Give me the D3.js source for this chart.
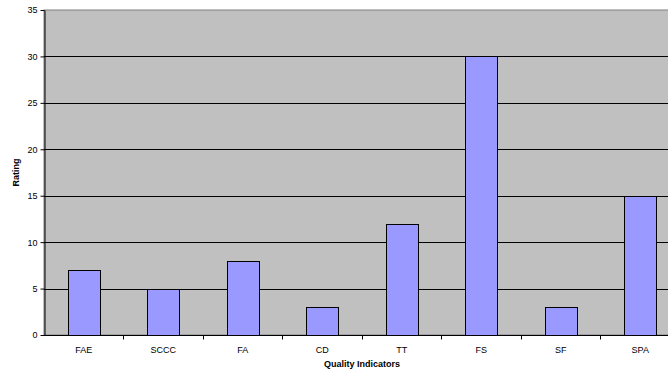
<!DOCTYPE html>
<html>
<head>
<meta charset="utf-8">
<script src="https://cdn.jsdelivr.net/npm/d3@7"></script>
<style>
  body { margin: 0; background: #fff; }
  svg { display: block; font-family: "Liberation Sans", Arial, sans-serif; }
</style>
</head>
<body>
<svg id="chart"></svg>
<script>
const categories = ["FAE", "SCCC", "FA", "CD", "TT", "FS", "SF", "SPA"];
const ratings = [7, 5, 8, 3, 12, 30, 3, 15];
const yTicks = [0, 5, 10, 15, 20, 25, 30, 35];

const width = 668;
const height = 373;
// plot runs past the right edge of the window, like the original
const margin = { top: 10, left: 44, plotRight: 680, bottom: 335 };

const svg = d3.select("#chart").attr("width", width).attr("height", height);

const x = d3
  .scaleBand()
  .domain(categories)
  .range([margin.left, margin.plotRight])
  .paddingInner(0.6)
  .paddingOuter(0.3);

const y = d3.scaleLinear().domain([0, 35]).range([margin.bottom, margin.top]);

// plot background
svg
  .append("rect")
  .attr("x", margin.left)
  .attr("y", margin.top)
  .attr("width", margin.plotRight - margin.left)
  .attr("height", margin.bottom - margin.top)
  .attr("fill", "#c0c0c0")
  .attr("stroke", "#808080")
  .attr("stroke-width", 1);

// gridlines
svg
  .append("g")
  .selectAll("line")
  .data(yTicks.filter((d) => d > 0 && d < 35))
  .enter()
  .append("line")
  .attr("x1", margin.left)
  .attr("x2", margin.plotRight)
  .attr("y1", (d) => Math.round(y(d)) + 0.5)
  .attr("y2", (d) => Math.round(y(d)) + 0.5)
  .attr("stroke", "#000")
  .attr("stroke-width", 1);

// bars
svg
  .append("g")
  .selectAll("rect")
  .data(ratings)
  .enter()
  .append("rect")
  .attr("x", (d, i) => Math.round(x(categories[i])) + 0.5)
  .attr("y", (d) => Math.round(y(d)) + 0.5)
  .attr("width", Math.round(x.bandwidth()))
  .attr("height", (d) => Math.round(y(0)) - Math.round(y(d)))
  .attr("fill", "#9999ff")
  .attr("stroke", "#000")
  .attr("stroke-width", 1);

// y axis
const yAxis = svg
  .append("g")
  .attr("transform", `translate(${margin.left + 0.5},0)`)
  .call(d3.axisLeft(y).tickValues(yTicks).tickSize(4).tickSizeOuter(0).tickPadding(3));
yAxis.select(".domain").attr("stroke", "#000");
yAxis.selectAll("line").attr("stroke", "#000");
yAxis.selectAll("text").attr("font-size", 9).attr("fill", "#000");

// x axis: ticks sit between categories
const xAxisG = svg.append("g").attr("transform", `translate(0,${Math.round(y(0)) + 0.5})`);
xAxisG
  .append("line")
  .attr("x1", margin.left)
  .attr("x2", margin.plotRight)
  .attr("stroke", "#000");
const step = x.step();
xAxisG
  .selectAll(".tick")
  .data(categories.slice(1))
  .enter()
  .append("line")
  .attr("x1", (d) => Math.round(x(d) - x.bandwidth() * 0.75) + 0.5)
  .attr("x2", (d) => Math.round(x(d) - x.bandwidth() * 0.75) + 0.5)
  .attr("y1", 0)
  .attr("y2", 4)
  .attr("stroke", "#000");
xAxisG
  .selectAll("text")
  .data(categories)
  .enter()
  .append("text")
  .attr("x", (d) => x(d) + x.bandwidth() / 2)
  .attr("y", 17)
  .attr("text-anchor", "middle")
  .attr("font-size", 9)
  .text((d) => d);

// axis titles
svg
  .append("text")
  .attr("x", (margin.left + margin.plotRight) / 2)
  .attr("y", 367)
  .attr("text-anchor", "middle")
  .attr("font-size", 9)
  .attr("font-weight", "bold")
  .text("Quality Indicators");

svg
  .append("text")
  .attr("transform", `translate(19,${(margin.top + margin.bottom) / 2}) rotate(-90)`)
  .attr("text-anchor", "middle")
  .attr("font-size", 9)
  .attr("font-weight", "bold")
  .text("Rating");
</script>
</body>
</html>
